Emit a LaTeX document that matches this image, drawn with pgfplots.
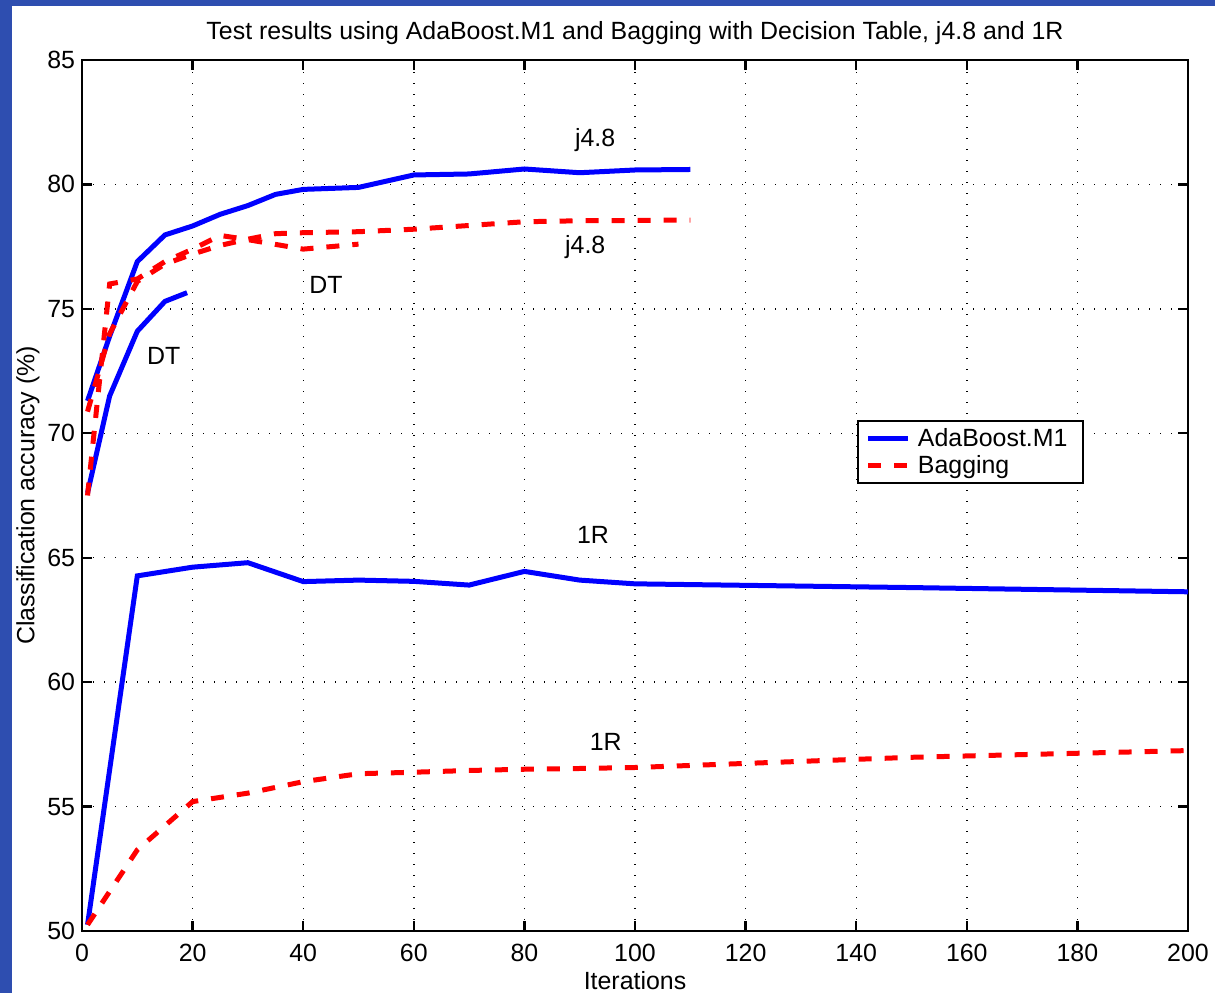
\documentclass[border=0pt]{standalone}
\usepackage{fontspec}
\setmainfont{Liberation Sans}
\usepackage{pgfplots}
\pgfplotsset{compat=1.18}
\definecolor{bgblue}{RGB}{46,78,176}
\definecolor{mblue}{RGB}{0,0,255}
\definecolor{mred}{RGB}{255,0,0}
\begin{document}
\begin{tikzpicture}[font=\fontsize{12.5}{15}\selectfont]
\fill[bgblue] (-41bp,-31bp) rectangle (566.5bp,465.5bp);
\fill[white] (-35bp,-31bp) rectangle (566.5bp,462.5bp);
\begin{axis}[
  at={(0,0)}, anchor=south west,
  width=553bp, height=435.5bp, scale only axis,
  xmin=0, xmax=200, ymin=50, ymax=85,
  xtick={0,20,...,200}, ytick={50,55,...,85},
  /pgf/number format/assume math mode=true,
  grid=major,
  grid style={black, line width=0.7bp, dash pattern=on 0.7bp off 4.8bp},
  axis line style={black, line width=1.2bp},
  tick style={black, line width=1.2bp},
  major tick length=5bp,
  tick align=inside,
  xticklabel style={yshift=-3bp},
  every axis title shift=0pt,
  title={Test results using AdaBoost.M1 and Bagging with Decision Table, j4.8 and 1R},
  title style={at={(axis description cs:0.5,1.031)}, anchor=center},
  xlabel={Iterations},
  xlabel style={at={(axis description cs:0.5,-0.0677)}, anchor=base},
  ylabel={Classification accuracy (\%)},
  ylabel style={at={(axis description cs:-0.0488,0.5)}, anchor=center},
  legend style={at={(axis cs:140.1,70.55)}, anchor=north west, draw=black, line width=1bp,
    inner xsep=4bp, inner ysep=2.2bp, row sep=0bp,
    nodes={inner xsep=3.6bp, inner ysep=1.5bp, anchor=west}},
  legend cell align=left,
  legend image code/.code={\draw[#1] (0bp,0bp) -- (20bp,0bp);},
  blueline/.style={mblue, line width=2.5bp},
  redline/.style={mred, line width=2.5bp, dash pattern=on 6.5bp off 6.5bp},
]
% AdaBoost j4.8
\addplot[blueline] coordinates {
 (1,71.3) (5,73.9) (10,76.9) (15,77.97) (20,78.33) (25,78.8) (30,79.15) (35,79.6) (40,79.8)
 (50,79.88) (60,80.38) (70,80.42) (80,80.62) (90,80.47) (100,80.58) (110,80.6)};
\addlegendentry{AdaBoost.M1}
% Bagging j4.8
\addplot[redline] coordinates {
 (1,70.87) (5,74.0) (10,76.1) (15,76.8) (20,77.2) (25,77.55) (30,77.8) (35,78.02) (40,78.06)
 (50,78.1) (60,78.2) (70,78.35) (80,78.5) (90,78.54) (100,78.55) (110,78.57)};
\addlegendentry{Bagging}
% AdaBoost DT
\addplot[blueline, forget plot] coordinates {
 (1,67.6) (5,71.5) (10,74.1) (15,75.3) (19,75.65)};
% Bagging DT
\addplot[redline, forget plot] coordinates {
 (1,67.5) (5,76.0) (10,76.2) (15,76.9) (20,77.4) (25,77.95) (30,77.78) (40,77.4) (50,77.6)};
% AdaBoost 1R
\addplot[blueline, forget plot] coordinates {
 (1,50.25) (10,64.27) (20,64.62) (30,64.8) (40,64.04) (50,64.1) (60,64.05) (70,63.9)
 (80,64.45) (90,64.1) (100,63.95) (150,63.8) (200,63.63)};
% Bagging 1R
\addplot[redline, forget plot] coordinates {
 (1,50.25) (10,53.26) (20,55.2) (30,55.54) (40,56.0) (50,56.32) (60,56.38) (70,56.45)
 (80,56.5) (90,56.53) (100,56.57) (150,56.98) (200,57.25)};
\node at (axis cs:92.8,81.8) {j4.8};
\node at (axis cs:91.0,77.5) {j4.8};
\node at (axis cs:44.1,75.96) {DT};
\node at (axis cs:14.8,73.1) {DT};
\node at (axis cs:92.4,65.91) {1R};
\node at (axis cs:94.7,57.58) {1R};
\end{axis}
\pgfresetboundingbox
\path[use as bounding box] (-41bp,-31bp) rectangle (566.5bp,465.5bp);
\end{tikzpicture}
\end{document}
